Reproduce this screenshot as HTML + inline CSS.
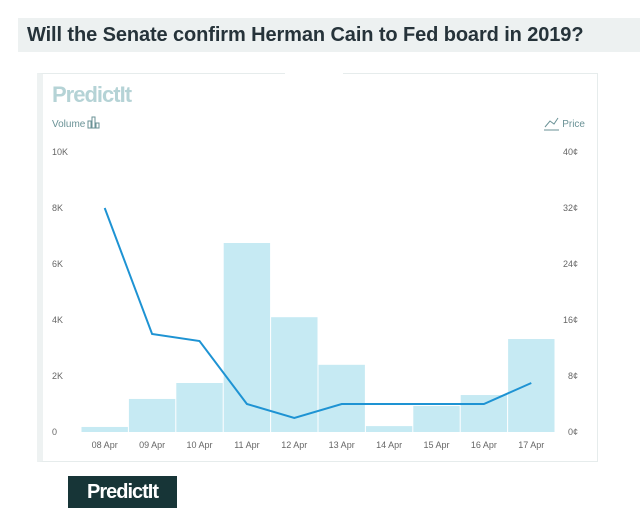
<!DOCTYPE html>
<html><head><meta charset="utf-8"><style>
body{margin:0;width:640px;height:516px;background:#fff;font-family:"Liberation Sans",sans-serif;overflow:hidden;position:relative}
#title{position:absolute;left:18px;top:18px;width:622px;height:34px;background:#edf1f1;color:#26333a;font-size:20px;font-weight:bold;line-height:34px;padding-left:9px;box-sizing:border-box;letter-spacing:-0.1px}
#panel{position:absolute;left:37px;top:73px;width:561px;height:389px;border:1px solid #e6ecec;border-left:6px solid #eef2f2;box-sizing:border-box;background:#fff}
#logo2{position:absolute;left:68px;top:476px;width:109px;height:32px;background:#173537;color:#fff;font-weight:bold;font-size:20px;line-height:32px;text-align:center;letter-spacing:-1px}
</style></head><body>
<div id="title">Will the Senate confirm Herman Cain to Fed board in 2019?</div>
<div id="panel"></div>
<div style="position:absolute;left:285px;top:70px;width:58px;height:5px;background:#fff"></div>
<svg id="chart" width="640" height="516" style="position:absolute;left:0;top:0">
<text x="52" y="102" font-size="22" font-weight="bold" fill="#b5d3d6" letter-spacing="-1">PredictIt</text>
<text x="52" y="127" font-size="10" fill="#6a9296">Volume</text>
<g stroke="#6a9296" fill="none" stroke-width="1"><rect x="88" y="121" width="3" height="7"/><rect x="92" y="117" width="3" height="11"/><rect x="96" y="123" width="3" height="5"/></g>
<text x="585" y="127" font-size="10" fill="#6a9296" text-anchor="end">Price</text>
<polyline points="545,127 550,121 554,124 558,118" stroke="#6a9296" fill="none"/><line x1="544" y1="130" x2="559" y2="130" stroke="#6a9296"/>
<g id="bars"></g><g id="axes"></g>
</svg>
<div id="logo2">PredictIt</div>
<script>
const categories=["08 Apr","09 Apr","10 Apr","11 Apr","12 Apr","13 Apr","14 Apr","15 Apr","16 Apr","17 Apr"];
const volumes=[180,1180,1750,6750,4100,2400,210,930,1320,3320];
const prices=[32,14,13,4,2,4,4,4,4,7];
const volTicks=[0,2000,4000,6000,8000,10000];
const volTickLabels=["0","2K","4K","6K","8K","10K"];
const priceTicks=[0,8,16,24,32,40];
const x0=81,x1=555,yb=432,yt=152;
const step=(x1-x0)/categories.length;
const xs=i=>x0+step*(i+0.5);
const yv=v=>yb-(v/10000)*(yb-yt);
const yp=p=>yb-(p/40)*(yb-yt);
const NS="http://www.w3.org/2000/svg";
const bars=document.getElementById('bars'),axes=document.getElementById('axes');
function mk(t,a,p){const e=document.createElementNS(NS,t);for(const k in a)e.setAttribute(k,a[k]);p.appendChild(e);return e;}
volumes.forEach((v,i)=>{
 const r=mk('rect',{x:x0+step*i+0.5,y:yv(v),width:step-1,height:yb-yv(v),fill:'#c6eaf3'},bars);
 
 
 const t=mk('text',{x:xs(i),y:448,'font-size':9,fill:'#666','text-anchor':'middle'},axes);
 t.textContent=categories[i];
 
 
});
volTicks.forEach((v,i)=>{
 const t=mk('text',{x:52,y:yv(v)+3,'font-size':9,fill:'#666'},axes);
 t.textContent=volTickLabels[i];
 
 
});
priceTicks.forEach(p=>{
 const t=mk('text',{x:578,y:yp(p)+3,'font-size':9,fill:'#666','text-anchor':'end'},axes);
 t.textContent=p+'¢';
 
 
});
const pl=mk('polyline',{points:prices.map((p,i)=>xs(i)+','+yp(p)).join(' '),fill:'none',stroke:'#1e93d3','stroke-width':2},axes);


</script>
</body></html>
